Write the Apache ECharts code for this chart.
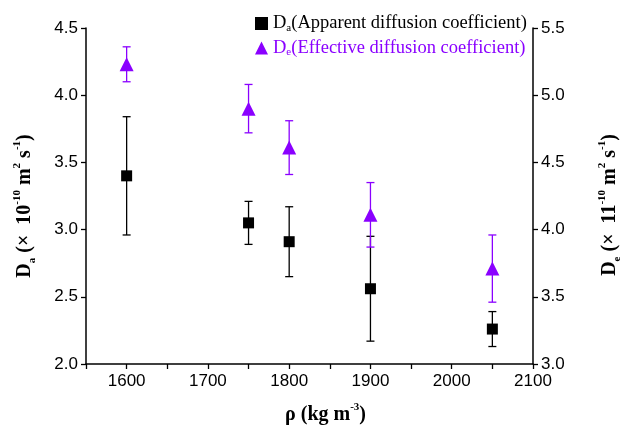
<!DOCTYPE html>
<html>
<head>
<meta charset="utf-8">
<script src="https://cdn.jsdelivr.net/npm/echarts@6/dist/echarts.min.js"></script>
<style>
  html, body { margin: 0; padding: 0; background: #fff; }
  #chart { width: 625px; height: 432px; }
</style>
</head>
<body>
<div id="chart"></div>
<script>
  // density (kg m^-3)
  const densities = [1600, 1750, 1800, 1900, 2050];
  // apparent diffusion coefficient, left axis
  const daValues = [3.40, 3.05, 2.91, 2.56, 2.26];
  const daErrors = [0.44, 0.16, 0.26, 0.39, 0.13];
  // effective diffusion coefficient, right axis
  const deValues = [5.23, 4.90, 4.61, 4.11, 3.71];
  const deErrors = [0.13, 0.18, 0.20, 0.24, 0.25];

  const purple = '#8a00ff';
  const serif = '"Liberation Serif", "DejaVu Serif", serif';
  const sans = '"Liberation Sans", Arial, sans-serif';

  const nameRich = {
    b: { fontFamily: serif, fontWeight: 'bold', fontSize: 20, color: '#000', lineHeight: 26, verticalAlign: 'middle' },
    sup: { fontFamily: serif, fontWeight: 'bold', fontSize: 11, color: '#000', lineHeight: 26, verticalAlign: 'top', padding: [0, 0, 10, 0] },
    sub: { fontFamily: serif, fontWeight: 'bold', fontSize: 11, color: '#000', lineHeight: 26, verticalAlign: 'bottom', padding: [8, 0, 0, 0] }
  };

  const legendRich = (color) => ({
    n: { fontFamily: serif, fontSize: 18.5, color: color, lineHeight: 20 },
    s: { fontFamily: serif, fontSize: 11, color: color, lineHeight: 20, verticalAlign: 'bottom', padding: [7, 0, 0, 0] }
  });

  const errorBars = (values, errors, color, axisIdx) => ({
    type: 'custom',
    yAxisIndex: axisIdx,
    silent: true,
    z: 1,
    data: densities.map((x, i) => [x, values[i] - errors[i], values[i] + errors[i]]),
    renderItem: (params, api) => {
      const lo = api.coord([api.value(0), api.value(1)]);
      const hi = api.coord([api.value(0), api.value(2)]);
      const w = 4;
      const style = { stroke: color, lineWidth: 1.3 };
      return {
        type: 'group',
        children: [
          { type: 'line', shape: { x1: lo[0], y1: lo[1], x2: hi[0], y2: hi[1] }, style },
          { type: 'line', shape: { x1: lo[0] - w, y1: lo[1], x2: lo[0] + w, y2: lo[1] }, style },
          { type: 'line', shape: { x1: hi[0] - w, y1: hi[1], x2: hi[0] + w, y2: hi[1] }, style }
        ]
      };
    }
  });

  const axisLine = { show: true, lineStyle: { color: '#000', width: 1.5 } };
  const tickLabel = { fontFamily: sans, fontSize: 17, color: '#000', margin: 8 };

  const chart = echarts.init(document.getElementById('chart'));
  chart.setOption({
    animation: false,
    backgroundColor: '#fff',
    grid: { left: 86, right: 92, top: 28, bottom: 68, containLabel: false, outerBoundsMode: 'none' },
    legend: {
      orient: 'vertical',
      left: 250,
      top: 9,
      itemGap: 5,
      itemWidth: 13,
      itemHeight: 13,
      selectedMode: false,
      data: [
        { name: 'Da', icon: 'rect', textStyle: { rich: legendRich('#000') } },
        { name: 'De', icon: 'triangle', textStyle: { rich: legendRich(purple) } }
      ],
      formatter: (name) => name === 'Da'
        ? '{n|D}{s|a}{n|(Apparent diffusion coefficient)}'
        : '{n|D}{s|e}{n|(Effective diffusion coefficient)}'
    },
    xAxis: {
      type: 'value',
      min: 1550,
      max: 2100,
      interval: 50,
      name: '{b|ρ (kg m}{sup|-3}{b|)}',
      nameLocation: 'middle',
      nameGap: 38,
      nameTextStyle: { rich: nameRich, padding: [0, 0, 0, 32] },
      axisLine: axisLine,
      axisTick: { show: true, length: 5, lineStyle: { color: '#000', width: 1.3 } },
      axisLabel: Object.assign({}, tickLabel, {
        margin: 9,
        formatter: (v) => (v % 100 === 0 ? String(v) : '')
      }),
      splitLine: { show: false }
    },
    yAxis: [
      {
        type: 'value',
        min: 2.0,
        max: 4.5,
        interval: 0.5,
        position: 'left',
        name: '{b|D}{sub|a}{b| (×  10}{sup|-10}{b| m}{sup|2}{b| s}{sup|-1}{b|)}',
        nameLocation: 'middle',
        nameRotate: 90,
        nameGap: 48,
        nameTextStyle: { rich: nameRich, padding: [0, 20, 0, 0] },
        axisLine: axisLine,
        axisTick: { show: true, length: 5, lineStyle: { color: '#000', width: 1.3 } },
        axisLabel: Object.assign({}, tickLabel, { formatter: (v) => v.toFixed(1) }),
        splitLine: { show: false }
      },
      {
        type: 'value',
        min: 3.0,
        max: 5.5,
        interval: 0.5,
        position: 'right',
        name: '{b|D}{sub|e}{b| (×  11}{sup|-10}{b| m}{sup|2}{b| s}{sup|-1}{b|)}',
        nameLocation: 'middle',
        nameRotate: 90,
        nameGap: 64,
        nameTextStyle: { rich: nameRich, padding: [0, 18, 0, 0] },
        axisLine: axisLine,
        axisTick: { show: true, length: 5, lineStyle: { color: '#000', width: 1.3 } },
        axisLabel: Object.assign({}, tickLabel, { formatter: (v) => v.toFixed(1) }),
        splitLine: { show: false }
      }
    ],
    series: [
      errorBars(daValues, daErrors, '#000', 0),
      errorBars(deValues, deErrors, purple, 1),
      {
        name: 'Da',
        type: 'scatter',
        yAxisIndex: 0,
        symbol: 'rect',
        symbolSize: 11,
        itemStyle: { color: '#000', opacity: 1 },
        z: 3,
        data: densities.map((x, i) => [x, daValues[i]])
      },
      {
        name: 'De',
        type: 'scatter',
        yAxisIndex: 1,
        symbol: 'triangle',
        symbolSize: 14,
        itemStyle: { color: purple, opacity: 1 },
        z: 3,
        data: densities.map((x, i) => [x, deValues[i]])
      }
    ]
  });
</script>
</body>
</html>
